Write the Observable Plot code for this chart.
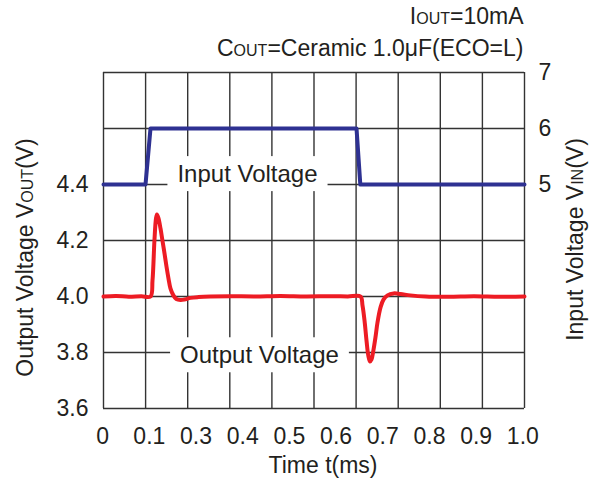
<!DOCTYPE html>
<html>
<head>
<meta charset="utf-8">
<script src="https://cdn.jsdelivr.net/npm/d3@7"></script>
<script src="https://cdn.jsdelivr.net/npm/@observablehq/plot@0.6"></script>
<style>
  html, body { margin: 0; padding: 0; background: white; }
</style>
</head>
<body>
<script>
// ---- data ----
const xTickLabels = ["0", "0.1", "0.3", "0.4", "0.5", "0.6", "0.7", "0.8", "0.9", "1.0"];
const leftTickValues = [3.6, 3.8, 4.0, 4.2, 4.4];
const rightTickValues = [5, 6, 7];
const gridTimes = [0, 0.1, 0.2, 0.3, 0.4, 0.5, 0.6, 0.7, 0.8, 0.9, 1.0];
const gridVout = [3.6, 3.8, 4.0, 4.2, 4.4, 4.6, 4.8];

// Input voltage VIN (V), right axis
const inputTime = [0, 0.0998, 0.1116, 0.601, 0.610, 1.0];
const inputVolt = [5, 5, 6, 6, 5, 5];

// Output voltage VOUT (V), left axis
const outputTime = [0, 0.03, 0.06, 0.09, 0.1116, 0.1164, 0.121, 0.1247, 0.127, 0.1306, 0.1354, 0.140,
  0.1449, 0.1496, 0.1544, 0.159, 0.166, 0.173, 0.183, 0.192, 0.2067, 0.2257, 0.254, 0.30, 0.36, 0.42,
  0.48, 0.54, 0.58, 0.6105, 0.6152, 0.620, 0.6247, 0.629, 0.633, 0.6366, 0.641, 0.646, 0.6508, 0.658,
  0.665, 0.6746, 0.689, 0.7055, 0.729, 0.765, 0.82, 0.88, 0.94, 1.0];
const outputVolt = [4.0, 4.002, 3.999, 4.001, 4.0, 4.057, 4.2, 4.279, 4.293, 4.279, 4.243, 4.2,
  4.154, 4.107, 4.064, 4.029, 4.004, 3.991, 3.9875, 3.989, 3.995, 3.998, 4.0, 4.001, 4.0, 4.002,
  4.0, 4.001, 4.0, 4.0, 3.968, 3.914, 3.843, 3.789, 3.768, 3.775, 3.807, 3.854, 3.907, 3.961,
  3.989, 4.004, 4.011, 4.009, 4.004, 4.0, 3.999, 4.001, 3.999, 4.0];

const annotLabels = ["Input Voltage", "Output Voltage"];
const annotTime = [0.342, 0.3705];
const annotVout = [4.436, 3.789];

const titleLines = ["I{OUT}=10mA", "C{OUT}=Ceramic 1.0μF(ECO=L)"];
const xTitle = "Time t(ms)";
const yLeftTitle = "Output Voltage V{OUT}(V)";
const yRightTitle = "Input Voltage V{IN}(V)";

// ---- mapping between the two y axes (VIN 5..7 drawn on VOUT 4.4..4.8) ----
const vinToVout = v => 3.6 + (v - 1) * 0.2;
const voutToVin = v => Math.round((v - 3.6) / 0.2 + 1);

const inputData = inputTime.map((t, i) => ({t, v: vinToVout(inputVolt[i])}));
const outputData = outputTime.map((t, i) => ({t, v: outputVolt[i]}));
const annotData = annotLabels.map((label, i) => ({label, t: annotTime[i], v: annotVout[i]}));

// x tick labels are spread evenly across the frame (as in the original)
const xTickPos = xTickLabels.map((_, i) => -0.002 + i * 0.1109);
const xLabelMap = new Map(xTickPos.map((p, i) => [p, xTickLabels[i]]));
const rightTickPos = rightTickValues.map(vinToVout);

const ink = "#231f20";
const font = "'Liberation Sans', Arial, Helvetica, sans-serif";

const chart = Plot.plot({
  width: 600,
  height: 482,
  marginLeft: 103,
  marginRight: 76,
  marginTop: 72,
  marginBottom: 74,
  style: {fontFamily: font, fontSize: "23px", color: ink, background: "white", overflow: "visible"},
  x: {domain: [0, 1]},
  y: {domain: [3.6, 4.8]},
  marks: [
    Plot.ruleX(gridTimes, {stroke: "#333", strokeWidth: 1.4}),
    Plot.ruleY(gridVout, {stroke: "#333", strokeWidth: 1.4}),
    Plot.line(inputData, {x: "t", y: "v", stroke: "#2e3192", strokeWidth: 4, strokeLinejoin: "round"}),
    Plot.line(outputData, {x: "t", y: "v", stroke: "#ed1c24", strokeWidth: 4, curve: "catmull-rom", strokeLinejoin: "round"}),
    Plot.text(annotData, {x: "t", y: "v", text: "label", fill: ink, fontSize: 24, lineAnchor: "middle"}),
    Plot.axisX(xTickPos, {tickSize: 0, tickPadding: 19, tickFormat: d => xLabelMap.get(d), label: null, fontSize: 23}),
    Plot.axisY(leftTickValues, {anchor: "left", tickSize: 0, tickPadding: 15, tickFormat: d => d.toFixed(1), label: null, fontSize: 23}),
    Plot.axisY(rightTickPos, {anchor: "right", tickSize: 0, tickPadding: 14, tickFormat: voutToVin, label: null, fontSize: 23}),
    Plot.text([xTitle], {frameAnchor: "bottom", textAnchor: "middle", dy: 57, dx: 9, lineAnchor: "middle", fontSize: 23, fill: ink}),
    Plot.text([yLeftTitle], {frameAnchor: "left", textAnchor: "middle", rotate: -90, dx: -78, dy: 17, lineAnchor: "middle", fontSize: 23, fill: ink}),
    Plot.text([yRightTitle], {frameAnchor: "right", textAnchor: "middle", rotate: -90, dx: 51, dy: -1, lineAnchor: "middle", fontSize: 23, fill: ink}),
    Plot.text([titleLines[0]], {frameAnchor: "top-right", textAnchor: "end", dx: -1, dy: -56, lineAnchor: "middle", fontSize: 23, fill: ink}),
    Plot.text([titleLines[1]], {frameAnchor: "top-right", textAnchor: "end", dx: -1, dy: -24, lineAnchor: "middle", fontSize: 23, fill: ink})
  ]
});

document.body.append(chart);

// small-caps subscripts like I{OUT}
chart.querySelectorAll("text").forEach(el => {
  const s = el.textContent;
  if (!s.includes("{")) return;
  el.textContent = "";
  s.split(/(\{[^}]*\})/).forEach(part => {
    if (!part) return;
    const ts = document.createElementNS("http://www.w3.org/2000/svg", "tspan");
    if (part.startsWith("{")) {
      ts.textContent = part.slice(1, -1);
      ts.setAttribute("font-size", "16");
    } else {
      ts.textContent = part;
    }
    el.appendChild(ts);
  });
});

// white boxes behind the in-plot labels
chart.querySelectorAll("text").forEach(el => {
  if (!annotLabels.includes(el.textContent)) return;
  const bb = el.getBBox();
  const r = document.createElementNS("http://www.w3.org/2000/svg", "rect");
  const px = 10, py = 4;
  r.setAttribute("x", bb.x - px);
  r.setAttribute("y", bb.y - py);
  r.setAttribute("width", bb.width + 2 * px);
  r.setAttribute("height", bb.height + 2 * py);
  r.setAttribute("fill", "white");
  const tr = el.getAttribute("transform");
  if (tr) r.setAttribute("transform", tr);
  el.parentNode.insertBefore(r, el);
});
</script>
</body>
</html>
